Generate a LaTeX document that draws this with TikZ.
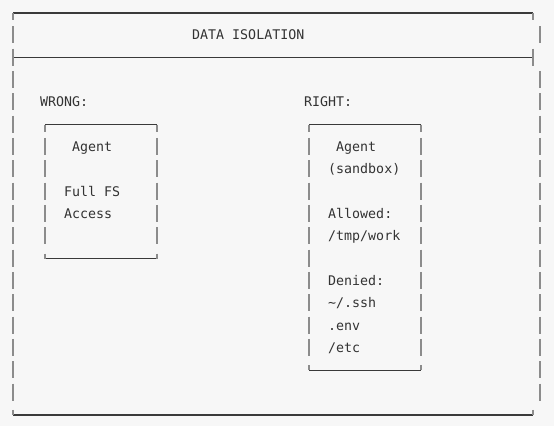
\documentclass[tikz,border=0pt]{standalone}
\usepackage{fontspec}
\setmonofont{DejaVu Sans Mono}
\definecolor{bg}{HTML}{F7F7F7}
\definecolor{hline}{HTML}{3A3A3A}
\definecolor{vline}{HTML}{8C8C8C}
\definecolor{txt}{HTML}{333333}
\tikzset{
  lbl/.style={anchor=base west, inner sep=0pt, font=\ttfamily\fontsize{13.3}{16}\selectfont, text=txt},
  hl/.style={draw=hline, line width=1.3pt},
  vl/.style={draw=vline, line width=1.8pt},
}
\newcommand{\ry}[1]{13+22.33*#1}
\begin{document}
\begin{tikzpicture}[x=1pt,y=-1pt]
  \fill[bg] (0,0) rectangle (554,426);
  \useasboundingbox (0,0) rectangle (554,426);
  % ---- outer frame ----
  \draw[hl] (13,{\ry{0}}) -- (533,{\ry{0}});
  \draw[hl] (13,{\ry{2}}) -- (533,{\ry{2}});
  \draw[hl] (13,{\ry{18}}) -- (533,{\ry{18}});
  % corners / tees
  \draw[vl] (13,{\ry{0}}) -- (13,{\ry{0}+7});
  \draw[vl] (533,{\ry{0}}) -- (533,{\ry{0}+7});
  \draw[vl] (13,{\ry{2}-9}) -- (13,{\ry{2}+8});
  \draw[vl] (533,{\ry{2}-9}) -- (533,{\ry{2}+8});
  \draw[vl] (13,{\ry{18}-5}) -- (13,{\ry{18}});
  \draw[vl] (533,{\ry{18}-5}) -- (533,{\ry{18}});
  % side bars
  \foreach \r in {1,3,4,...,17} {
    \draw[vl] (13,{\ry{\r}-9}) -- (13,{\ry{\r}+8});
    \draw[vl] (540,{\ry{\r}-9}) -- (540,{\ry{\r}+8});
  }
  % ---- left box ----
  \draw[hl] (45,{\ry{5}}) -- (157,{\ry{5}});
  \draw[hl] (45,{\ry{11}}) -- (157,{\ry{11}});
  \foreach \x in {45,157} {
    \draw[vl] (\x,{\ry{5}}) -- (\x,{\ry{5}+7});
    \draw[vl] (\x,{\ry{11}-5}) -- (\x,{\ry{11}});
    \foreach \r in {6,...,10} {
      \draw[vl] (\x,{\ry{\r}-9}) -- (\x,{\ry{\r}+8});
    }
  }
  % ---- right box ----
  \draw[hl] (309,{\ry{5}}) -- (421,{\ry{5}});
  \draw[hl] (309,{\ry{16}}) -- (421,{\ry{16}});
  \foreach \x in {309,421} {
    \draw[vl] (\x,{\ry{5}}) -- (\x,{\ry{5}+7});
    \draw[vl] (\x,{\ry{16}-5}) -- (\x,{\ry{16}});
    \foreach \r in {6,...,15} {
      \draw[vl] (\x,{\ry{\r}-9}) -- (\x,{\ry{\r}+8});
    }
  }
  % ---- texts ----
  \node[lbl] (title) at (192,{\ry{1}+4.5}) {DATA ISOLATION};
  \node[lbl] (wrong) at (40,{\ry{4}+4.5}) {WRONG:};
  \node[lbl] (right) at (304,{\ry{4}+4.5}) {RIGHT:};
  \node[lbl] (wagent) at (72,{\ry{6}+4.5}) {Agent};
  \node[lbl] (fullfs) at (64,{\ry{8}+4.5}) {Full FS};
  \node[lbl] (access) at (64,{\ry{9}+4.5}) {Access};
  \node[lbl] (ragent) at (336,{\ry{6}+4.5}) {Agent};
  \node[lbl] (sandbox) at (328,{\ry{7}+4.5}) {(sandbox)};
  \node[lbl] (allowed) at (328,{\ry{9}+4.5}) {Allowed:};
  \node[lbl] (tmpwork) at (328,{\ry{10}+4.5}) {/tmp/work};
  \node[lbl] (denied) at (328,{\ry{12}+4.5}) {Denied:};
  \node[lbl] (ssh) at (328,{\ry{13}+4.5}) {\string~/.ssh};
  \node[lbl] (env) at (328,{\ry{14}+4.5}) {.env};
  \node[lbl] (etc) at (328,{\ry{15}+4.5}) {/etc};
\end{tikzpicture}
\end{document}
